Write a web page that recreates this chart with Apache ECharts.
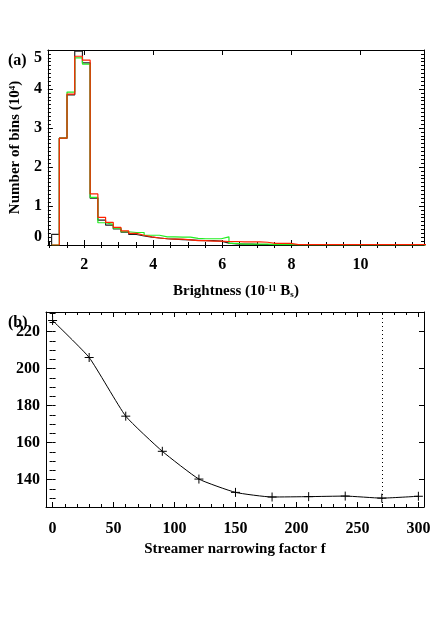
<!DOCTYPE html>
<html>
<head>
<meta charset="utf-8">
<script src="https://cdn.jsdelivr.net/npm/echarts@6/dist/echarts.min.js"></script>
<style>
  html, body { margin: 0; padding: 0; background: #fff; }
  #chart { width: 436px; height: 617px; }
</style>
</head>
<body>
<div id="chart"></div>
<script>
// panel (a): histogram of brightness, counts in 10^4 per bin
var binStart = 1.057;   // left edge of first bin (10^-11 Bs)
var binWidth = 0.2233;
var countsBlack = [
  0.27, 2.74, 3.85, 4.97, 4.67, 1.20, 0.64, 0.51, 0.41, 0.33,
  0.27, 0.23, 0.20, 0.18, 0.16, 0.15, 0.14, 0.13, 0.12, 0.11,
  0.11, 0.10, 0.05, 0.03, 0.02, 0.02, 0.01, 0.01, 0, 0,
  0, 0, 0, 0, 0, 0, 0, 0, 0, 0,
  0, 0, 0, 0, 0, 0, 0, 0, 0
];
var countsGreen = [
  0, 2.74, 3.92, 4.80, 4.64, 1.22, 0.57, 0.53, 0.43, 0.34,
  0.32, 0.32, 0.25, 0.25, 0.21, 0.21, 0.20, 0.20, 0.17, 0.16,
  0.16, 0.16, 0.21, 0.04, 0.02, 0.02, 0.02, 0.02, 0.01, 0.01,
  0.01, 0, 0, 0, 0, 0, 0, 0, 0, 0,
  0, 0, 0, 0, 0, 0, 0, 0, 0
];
var countsRed = [
  0, 2.74, 3.87, 4.84, 4.74, 1.31, 0.71, 0.58, 0.45, 0.36,
  0.30, 0.25, 0.21, 0.18, 0.16, 0.15, 0.15, 0.13, 0.11, 0.11,
  0.10, 0.10, 0.09, 0.09, 0.08, 0.08, 0.08, 0.07, 0.04, 0.04,
  0.04, 0.01, 0.01, 0.01, 0.01, 0.01, 0.01, 0.01, 0.01, 0.01,
  0.01, 0.01, 0.01, 0.01, 0.01, 0.01, 0.01, 0.01, 0.01
];
var brightTicks = [2, 4, 6, 8, 10];
var countTicks = [0, 1, 2, 3, 4, 5];

// panel (b): value against streamer narrowing factor
var narrowFactor = [0, 30, 60, 90, 120, 150, 180, 210, 240, 270, 300];
var narrowValue = [226.0, 206.0, 174.3, 155.3, 140.3, 133.1, 130.6, 130.8, 131.1, 130.0, 131.0];
var chosenFactor = 270;
var factorTicks = [0, 50, 100, 150, 200, 250, 300];
var valueTicks = [140, 160, 180, 200, 220];

var FONT = 'Liberation Serif';

function range(a, b, step) {
  var out = [];
  for (var v = a; v <= b + 1e-9; v += step) out.push(+v.toFixed(4));
  return out;
}

// step outline of a histogram (same look as IDL psym=10)
function steps(vals) {
  var pts = [[binStart, 0]];
  vals.forEach(function (v, i) {
    pts.push([binStart + i * binWidth, v]);
  });
  pts.push([binStart + vals.length * binWidth, vals[vals.length - 1]]);
  return pts;
}

// four axes for one side pair: main (line + labels + major ticks), minor ticks, mirrored pair
function boxAxes(grid, sides, min, max, labels, majors, minors, extra) {
  var base = function (pos, opts) {
    return Object.assign({
      type: 'value', gridIndex: grid, position: pos, min: min, max: max,
      splitLine: { show: false },
      axisLine: { show: false },
      axisTick: { show: false },
      axisLabel: { show: false }
    }, opts);
  };
  var line = { show: true, onZero: false, lineStyle: { color: '#000', width: 1 } };
  var major = { show: true, inside: true, length: 5, customValues: majors, lineStyle: { color: '#000' } };
  var minor = { show: true, inside: true, length: 3, customValues: minors, lineStyle: { color: '#000' } };
  var main = base(sides[0], Object.assign({
    axisLine: line,
    axisTick: major,
    axisLabel: Object.assign({
      show: true, customValues: labels, color: '#000',
      fontFamily: FONT, fontWeight: 'bold', fontSize: 16
    }, extra.label || {})
  }, extra.axis || {}));
  return [
    main,
    base(sides[0], { axisTick: minor }),
    base(sides[1], { axisLine: line, axisTick: major }),
    base(sides[1], { axisTick: minor })
  ];
}

var nameStyle = {
  rich: {
    b: { fontFamily: FONT, fontWeight: 'bold', fontSize: 15, color: '#000' },
    sup: { fontFamily: FONT, fontWeight: 'bold', fontSize: 9, color: '#000', verticalAlign: 'top', padding: [0, 0, 6, 0] },
    sub: { fontFamily: FONT, fontWeight: 'bold', fontSize: 9, color: '#000', verticalAlign: 'bottom', padding: [6, 0, 0, 0] }
  }
};

var xAxes = []
  .concat(boxAxes(0, ['bottom', 'top'], 0.95, 11.84, brightTicks, brightTicks, range(1, 11.5, 0.5), {
    label: { margin: 12 },
    axis: {
      name: '{b|Brightness (10}{sup|-11}{b| B}{sub|s}{b|)}',
      nameLocation: 'middle', nameGap: 39, nameTextStyle: nameStyle
    }
  }))
  .concat(boxAxes(1, ['bottom', 'top'], -5.4, 304.6, factorTicks, factorTicks, range(0, 300, 10), {
    label: { margin: 14 },
    axis: {
      name: '{b|Streamer narrowing factor f}',
      nameLocation: 'middle', nameGap: 35, nameTextStyle: nameStyle
    }
  }));

var yAxes = []
  .concat(boxAxes(0, ['left', 'right'], 0, 5, countTicks, countTicks, range(0, 5, 0.1), {
    label: { margin: 6, verticalAlignMinLabel: 'bottom', verticalAlignMaxLabel: 'top' },
    axis: {
      name: '{b|Number of bins (10}{sup|4}{b|)}',
      nameLocation: 'middle', nameGap: 24, nameRotate: 90, nameTextStyle: nameStyle
    }
  }))
  .concat(boxAxes(1, ['left', 'right'], 125.2, 230.6, valueTicks, valueTicks, range(130, 230, 5), {
    label: { margin: 6 }
  }));

var histLine = function (name, vals, color) {
  return {
    name: name, type: 'line', xAxisIndex: 0, yAxisIndex: 0,
    step: 'end', symbol: 'none', clip: true,
    lineStyle: { color: color, width: 1.2 },
    data: steps(vals)
  };
};

var chart = echarts.init(document.getElementById('chart'), null, { renderer: 'canvas' });
chart.setOption({
  backgroundColor: '#fff',
  animation: false,
  title: [
    { text: '(a)', left: 3, top: 48, textStyle: { fontFamily: FONT, fontWeight: 'bold', fontSize: 16, color: '#000' } },
    { text: '(b)', left: 3, top: 310, textStyle: { fontFamily: FONT, fontWeight: 'bold', fontSize: 16, color: '#000' } }
  ],
  grid: [
    { left: 46, right: 12, top: 50, height: 195 },
    { left: 46, right: 12, top: 312, height: 195 }
  ],
  xAxis: xAxes,
  yAxis: yAxes,
  series: [
    histLine('black', countsBlack, '#222'),
    histLine('green', countsGreen, '#22ee22'),
    histLine('red', countsRed, '#ff2200'),
    {
      type: 'line', xAxisIndex: 4, yAxisIndex: 4,
      smooth: 0.15,
      symbol: 'path://M0,5L10,5M5,0L5,10', symbolSize: 9,
      itemStyle: { color: '#000', borderColor: '#000', borderWidth: 1 },
      lineStyle: { color: '#000', width: 1 },
      data: narrowFactor.map(function (f, i) { return [f, narrowValue[i]]; }),
      markLine: {
        silent: true, symbol: 'none',
        label: { show: false },
        lineStyle: { color: '#000', type: [1, 3], width: 1 },
        data: [{ xAxis: chosenFactor }]
      }
    }
  ]
});
</script>
</body>
</html>
